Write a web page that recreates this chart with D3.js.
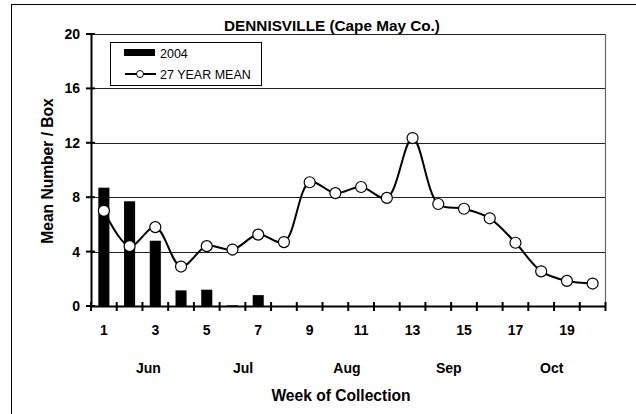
<!DOCTYPE html>
<html><head><meta charset="utf-8">
<script src="https://cdn.jsdelivr.net/npm/d3@7"></script>
<style>body{margin:0;background:#fff}svg{display:block;font-family:"Liberation Sans",Arial,sans-serif}</style>
</head><body><svg id="c" width="636" height="414"></svg>
<script>
const weeks = d3.range(1, 21);
const bars2004 = [8.7, 7.7, 4.8, 1.15, 1.2, 0.05, 0.8, 0, 0, 0, 0, 0, 0, 0, 0, 0, 0, 0, 0, 0];
const mean27 = [7.0, 4.4, 5.8, 2.9, 4.4, 4.15, 5.25, 4.7, 9.1, 8.3, 8.75, 7.95, 12.35, 7.5, 7.15, 6.45, 4.65, 2.55, 1.85, 1.65];
const yTicks = [0, 4, 8, 12, 16, 20];
const xTickLabels = [1, 3, 5, 7, 9, 11, 13, 15, 17, 19];
const months = ["Jun", "Jul", "Aug", "Sep", "Oct"];
const monthPos = [2.73, 6.41, 10.45, 14.41, 18.41];
const title = "DENNISVILLE (Cape May Co.)";
const yTitle = "Mean Number / Box";
const xTitle = "Week of Collection";
const legendLabels = ["2004", "27 YEAR MEAN"];

const svg = d3.select("#c");
const L = 91, R = 605.5, T = 34, B = 306;
const x = d3.scaleBand().domain(weeks).range([L, R]).padding(0);
const xc = d3.scaleLinear().domain([0.5, 20.5]).range([L, R]);
const y = d3.scaleLinear().domain([0, 20]).range([B, T]);

// outer border
svg.append("rect").attr("x", 11.5).attr("y", 4.5).attr("width", 700).attr("height", 500)
  .attr("fill", "none").attr("stroke", "#000").attr("stroke-width", 1);

// gridlines
svg.append("g").selectAll("line").data(yTicks.filter(d => d > 0)).join("line")
  .attr("x1", L).attr("x2", R).attr("y1", d => Math.round(y(d)) + 0.5).attr("y2", d => Math.round(y(d)) + 0.5)
  .attr("stroke", "#222").attr("stroke-width", 1);
// right border
svg.append("line").attr("x1", R).attr("x2", R).attr("y1", T).attr("y2", B)
  .attr("stroke", "#666").attr("stroke-width", 1.2);

// bars
const bw = x.bandwidth() * 0.43;
svg.append("g").selectAll("rect").data(weeks).join("rect")
  .attr("x", (d) => x(d) + x.bandwidth() / 2 - bw / 2)
  .attr("width", bw)
  .attr("y", (d, i) => y(bars2004[i]))
  .attr("height", (d, i) => B - y(bars2004[i]))
  .attr("fill", "#000");

// y axis
const yAxis = d3.axisLeft(y).tickValues(yTicks).tickSize(0).tickPadding(10);
const ya = svg.append("g").attr("transform", `translate(${L},0)`).call(yAxis);
ya.select(".domain").attr("stroke", "#000").attr("stroke-width", 2);
ya.selectAll("text").attr("font-size", 14).attr("font-weight", "bold").attr("fill", "#000").attr("x", -11);
svg.append("g").selectAll("line").data(yTicks).join("line")
  .attr("x1", L - 5).attr("x2", L + 4).attr("y1", d => y(d)).attr("y2", d => y(d))
  .attr("stroke", "#000").attr("stroke-width", 2);

// x axis
const xa = svg.append("g").attr("transform", `translate(0,${B})`)
  .call(d3.axisBottom(x).tickValues(xTickLabels).tickSize(0).tickPadding(19));
xa.select(".domain").attr("stroke", "#000").attr("stroke-width", 2.2);
xa.selectAll("text").attr("font-size", 14).attr("font-weight", "bold").attr("fill", "#000");
svg.append("g").selectAll("line").data(d3.range(0, 21)).join("line")
  .attr("x1", d => xc(d + 0.5)).attr("x2", d => xc(d + 0.5))
  .attr("y1", B - 4).attr("y2", B + 5)
  .attr("stroke", "#000").attr("stroke-width", 2);

// line
const line = d3.line().x((d, i) => x(weeks[i]) + x.bandwidth() / 2).y(d => y(d)).curve(d3.curveCatmullRom.alpha(0.5));
svg.append("path").datum(mean27).attr("d", line).attr("fill", "none").attr("stroke", "#000").attr("stroke-width", 2);
svg.append("g").selectAll("circle").data(mean27).join("circle")
  .attr("cx", (d, i) => x(weeks[i]) + x.bandwidth() / 2).attr("cy", d => y(d)).attr("r", 5.5)
  .attr("fill", "#fff").attr("stroke", "#000").attr("stroke-width", 1.2);

// month labels
svg.append("g").selectAll("text").data(months).join("text")
  .attr("x", (d, i) => xc(monthPos[i])).attr("y", 373).attr("text-anchor", "middle")
  .attr("font-size", 14).attr("font-weight", "bold").text(d => d);

// titles
svg.append("text").attr("x", 332).attr("y", 30.5).attr("text-anchor", "middle")
  .attr("font-size", 15.3).attr("font-weight", "bold").text(title);
svg.append("text").attr("x", 341).attr("y", 401).attr("text-anchor", "middle")
  .attr("font-size", 15.6).attr("font-weight", "bold").text(xTitle);
svg.append("text").attr("transform", `translate(53,171) rotate(-90)`).attr("text-anchor", "middle")
  .attr("font-size", 15.6).attr("font-weight", "bold").text(yTitle);

// legend
const lg = svg.append("g");
lg.append("rect").attr("x", 110.5).attr("y", 42.5).attr("width", 151).attr("height", 43)
  .attr("fill", "#fff").attr("stroke", "#000").attr("stroke-width", 1);
lg.append("rect").attr("x", 124).attr("y", 49).attr("width", 31).attr("height", 7).attr("fill", "#000");
lg.append("line").attr("x1", 125).attr("x2", 156).attr("y1", 74).attr("y2", 74).attr("stroke", "#000").attr("stroke-width", 2);
lg.append("circle").attr("cx", 140).attr("cy", 74).attr("r", 3.5).attr("fill", "#fff").attr("stroke", "#000").attr("stroke-width", 1);
lg.selectAll("text.l").data(legendLabels).join("text").attr("class", "l")
  .attr("x", 160).attr("y", (d, i) => i === 0 ? 57.5 : 78.5).attr("font-size", 12.5).text(d => d);
</script></body></html>
